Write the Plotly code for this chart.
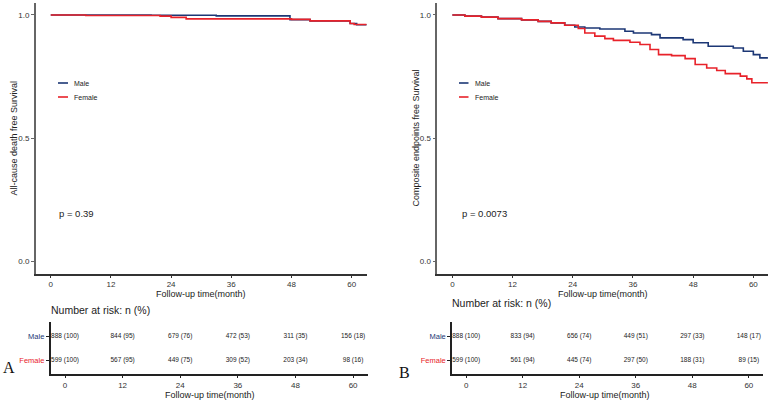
import plotly.graph_objects as go

# ---------------- data ----------------
# Panel A: all-cause death free survival
a_male_t = [0, 20, 33, 47.7, 51.7, 59.7, 61, 63]
a_male_s = [1.0, 0.999, 0.996, 0.981, 0.976, 0.965, 0.960, 0.960]
a_female_t = [0, 7, 21.8, 24, 27, 48, 51.7, 59.7, 60.5, 63]
a_female_s = [1.0, 0.998, 0.995, 0.990, 0.984, 0.982, 0.976, 0.965, 0.961, 0.961]

# Panel B: composite endpoints free survival
b_male_t = [0, 2.5, 5.8, 9.1, 13.8, 17.1, 19.7, 22.4, 24.4, 26.4, 29.4, 34.4, 36.1,
            39.7, 41.4, 46.0, 48.0, 51.0, 56.0, 58.0, 60.0, 61.3, 62.9]
b_male_s = [1.0, 0.995, 0.991, 0.985, 0.980, 0.974, 0.968, 0.958, 0.951, 0.947, 0.943,
            0.934, 0.927, 0.920, 0.907, 0.900, 0.887, 0.873, 0.866, 0.853, 0.839, 0.826, 0.826]
b_female_t = [0, 2.5, 5.8, 9.1, 13.8, 17.1, 19.7, 22.4, 25.1, 26.4, 28.4, 30.4, 32.1,
              35.4, 37.4, 39.4, 41.1, 43.7, 46.4, 48.4, 50.7, 52.7, 54.4, 57.4, 58.7, 59.7, 62.9]
b_female_s = [1.0, 0.995, 0.991, 0.985, 0.980, 0.974, 0.968, 0.958, 0.945, 0.927, 0.914,
              0.904, 0.897, 0.889, 0.880, 0.860, 0.839, 0.835, 0.823, 0.799, 0.785, 0.775,
              0.762, 0.752, 0.741, 0.725, 0.725]

risk_times = [0, 12, 24, 36, 48, 60]
a_male_n = [888, 844, 679, 472, 311, 156]
a_male_pct = [100, 95, 76, 53, 35, 18]
a_female_n = [599, 567, 449, 309, 203, 98]
a_female_pct = [100, 95, 75, 52, 34, 16]
b_male_n = [888, 833, 656, 449, 297, 148]
b_male_pct = [100, 94, 74, 51, 33, 17]
b_female_n = [599, 561, 445, 297, 188, 89]
b_female_pct = [100, 94, 74, 50, 31, 15]

groups = ["Male", "Female"]
p_values = ["p = 0.39", "p = 0.0073"]
y_titles = ["All-cause death free Survival", "Composite endpoints free Survival"]
panel_letters = ["A", "B"]
x_title = "Follow-up time(month)"
x_ticks = [0, 12, 24, 36, 48, 60]
y_ticks = [0.0, 0.5, 1.0]

# ---------------- style ----------------
W, H = 773, 402
MALE_C = "#1c3775"
FEMALE_C = "#e8222a"
FONT = "Liberation Sans, Arial, sans-serif"
TXT = "#222222"


def px(x):
    return x / W


def py(y):
    return 1 - y / H


fig = go.Figure()

# main curves
fig.add_trace(go.Scatter(x=a_male_t, y=a_male_s, mode="lines", line=dict(color=MALE_C, width=1.6, shape="hv"),
                         xaxis="x", yaxis="y", showlegend=False, name="Male"))
fig.add_trace(go.Scatter(x=a_female_t, y=a_female_s, mode="lines", line=dict(color=FEMALE_C, width=1.6, shape="hv"),
                         xaxis="x", yaxis="y", showlegend=False, name="Female"))
fig.add_trace(go.Scatter(x=b_male_t, y=b_male_s, mode="lines", line=dict(color=MALE_C, width=1.6, shape="hv"),
                         xaxis="x3", yaxis="y3", showlegend=False, name="Male"))
fig.add_trace(go.Scatter(x=b_female_t, y=b_female_s, mode="lines", line=dict(color=FEMALE_C, width=1.6, shape="hv"),
                         xaxis="x3", yaxis="y3", showlegend=False, name="Female"))


def risk_text(n, p):
    return [f"{a} ({b})" for a, b in zip(n, p)]


# risk tables
for xa, ya, mn, mp, fn, fp in [("x2", "y2", a_male_n, a_male_pct, a_female_n, a_female_pct),
                               ("x4", "y4", b_male_n, b_male_pct, b_female_n, b_female_pct)]:
    fig.add_trace(go.Scatter(x=risk_times, y=[groups[0]] * 6, mode="text", text=risk_text(mn, mp),
                             textfont=dict(size=6.5, color=TXT, family=FONT), xaxis=xa, yaxis=ya, showlegend=False))
    fig.add_trace(go.Scatter(x=risk_times, y=[groups[1]] * 6, mode="text", text=risk_text(fn, fp),
                             textfont=dict(size=6.5, color=TXT, family=FONT), xaxis=xa, yaxis=ya, showlegend=False))

axis_common = dict(showgrid=False, zeroline=False, showline=True, ticks="outside", ticklen=3, tickwidth=1,
                   tickfont=dict(size=8, color="#333", family=FONT), automargin=False)

main_x = dict(axis_common, range=[-3, 63], tickvals=x_ticks, linecolor="#333", linewidth=1.5, tickcolor="#333",
              ticklen=2)
main_y = dict(axis_common, range=[-0.05, 1.05], tickvals=y_ticks, ticktext=["0.0", "0.5", "1.0"],
              linecolor="#666", linewidth=1.5, tickcolor="#666")
risk_x = dict(axis_common, range=[-3, 63], tickvals=x_ticks, linecolor="#222", linewidth=1.5, tickcolor="#222",
              ticklen=2)
risk_y = dict(axis_common, type="category", categoryorder="array", categoryarray=["Female", "Male"],
              range=[-0.6, 1.6], linecolor="#222", linewidth=1.5, tickcolor="#222",
              tickvals=["Male", "Female"],
              ticktext=[f"<span style='color:{MALE_C}'>Male</span>", f"<span style='color:{FEMALE_C}'>Female</span>"],
              tickfont=dict(size=7.5, family=FONT))

fig.update_layout(
    width=W, height=H, margin=dict(l=0, r=0, t=0, b=0),
    paper_bgcolor="white", plot_bgcolor="white", showlegend=False,
    xaxis=dict(main_x, domain=[px(35.7), px(366.7)], anchor="y"),
    yaxis=dict(main_y, domain=[py(274), py(2.6)], anchor="x"),
    xaxis2=dict(risk_x, domain=[px(50.6), px(367.5)], anchor="y2"),
    yaxis2=dict(risk_y, domain=[py(374.4), py(321.6)], anchor="x2"),
    xaxis3=dict(main_x, domain=[px(437.3), px(768.4)], anchor="y3"),
    yaxis3=dict(main_y, domain=[py(274), py(2.6)], anchor="x3"),
    xaxis4=dict(risk_x, domain=[px(452), px(763)], anchor="y4"),
    yaxis4=dict(risk_y, domain=[py(374.4), py(321.6)], anchor="x4"),
)

# legends (drawn), p-values, axis titles, risk titles, panel letters
annotations = []
shapes = []
for (lx0, lx1, tx, ly_m, ly_f) in [(58, 68, 72, 83, 97), (459, 468.5, 473, 83, 97)]:
    for ly, col, g in [(ly_m, MALE_C, groups[0]), (ly_f, FEMALE_C, groups[1])]:
        shapes.append(dict(type="line", xref="paper", yref="paper", x0=px(lx0), x1=px(lx1), y0=py(ly), y1=py(ly),
                           line=dict(color=col, width=1.6)))
        annotations.append(dict(text=g, xref="paper", yref="paper", x=px(tx), y=py(ly), xanchor="left",
                                yanchor="middle", showarrow=False, font=dict(size=7, color=TXT, family=FONT)))

for xpos, txt in [(57, p_values[0]), (460, p_values[1])]:
    annotations.append(dict(text=txt, xref="paper", yref="paper", x=px(xpos), y=py(213), xanchor="left",
                            yanchor="middle", showarrow=False, font=dict(size=9.5, color=TXT, family=FONT)))

for xpos, txt in [(13, y_titles[0]), (415, y_titles[1])]:
    annotations.append(dict(text=txt, xref="paper", yref="paper", x=px(xpos), y=py(138.5), xanchor="center",
                            yanchor="middle", textangle=-90, showarrow=False,
                            font=dict(size=9, color=TXT, family=FONT)))

for xpos, ypos in [(201, 294), (210, 394.5), (602.5, 294), (605, 394.5)]:
    annotations.append(dict(text=x_title, xref="paper", yref="paper", x=px(xpos), y=py(ypos), xanchor="center",
                            yanchor="middle", showarrow=False, font=dict(size=9, color=TXT, family=FONT)))

for xpos, ypos in [(49, 310), (450, 303)]:
    annotations.append(dict(text="Number at risk: n (%)", xref="paper", yref="paper", x=px(xpos), y=py(ypos),
                            xanchor="left", yanchor="middle", showarrow=False,
                            font=dict(size=10.5, color=TXT, family=FONT)))

for xpos, ypos, letter in [(8.5, 367, panel_letters[0]), (404, 372, panel_letters[1])]:
    annotations.append(dict(text=letter, xref="paper", yref="paper", x=px(xpos), y=py(ypos), xanchor="center",
                            yanchor="middle", showarrow=False,
                            font=dict(size=16, color="#111", family="Liberation Serif, Times New Roman, serif")))

fig.update_layout(annotations=annotations, shapes=shapes)

fig.write_html("out.html", config={"displayModeBar": False},
               post_script="document.body.style.margin='0';document.body.style.overflow='hidden';")
